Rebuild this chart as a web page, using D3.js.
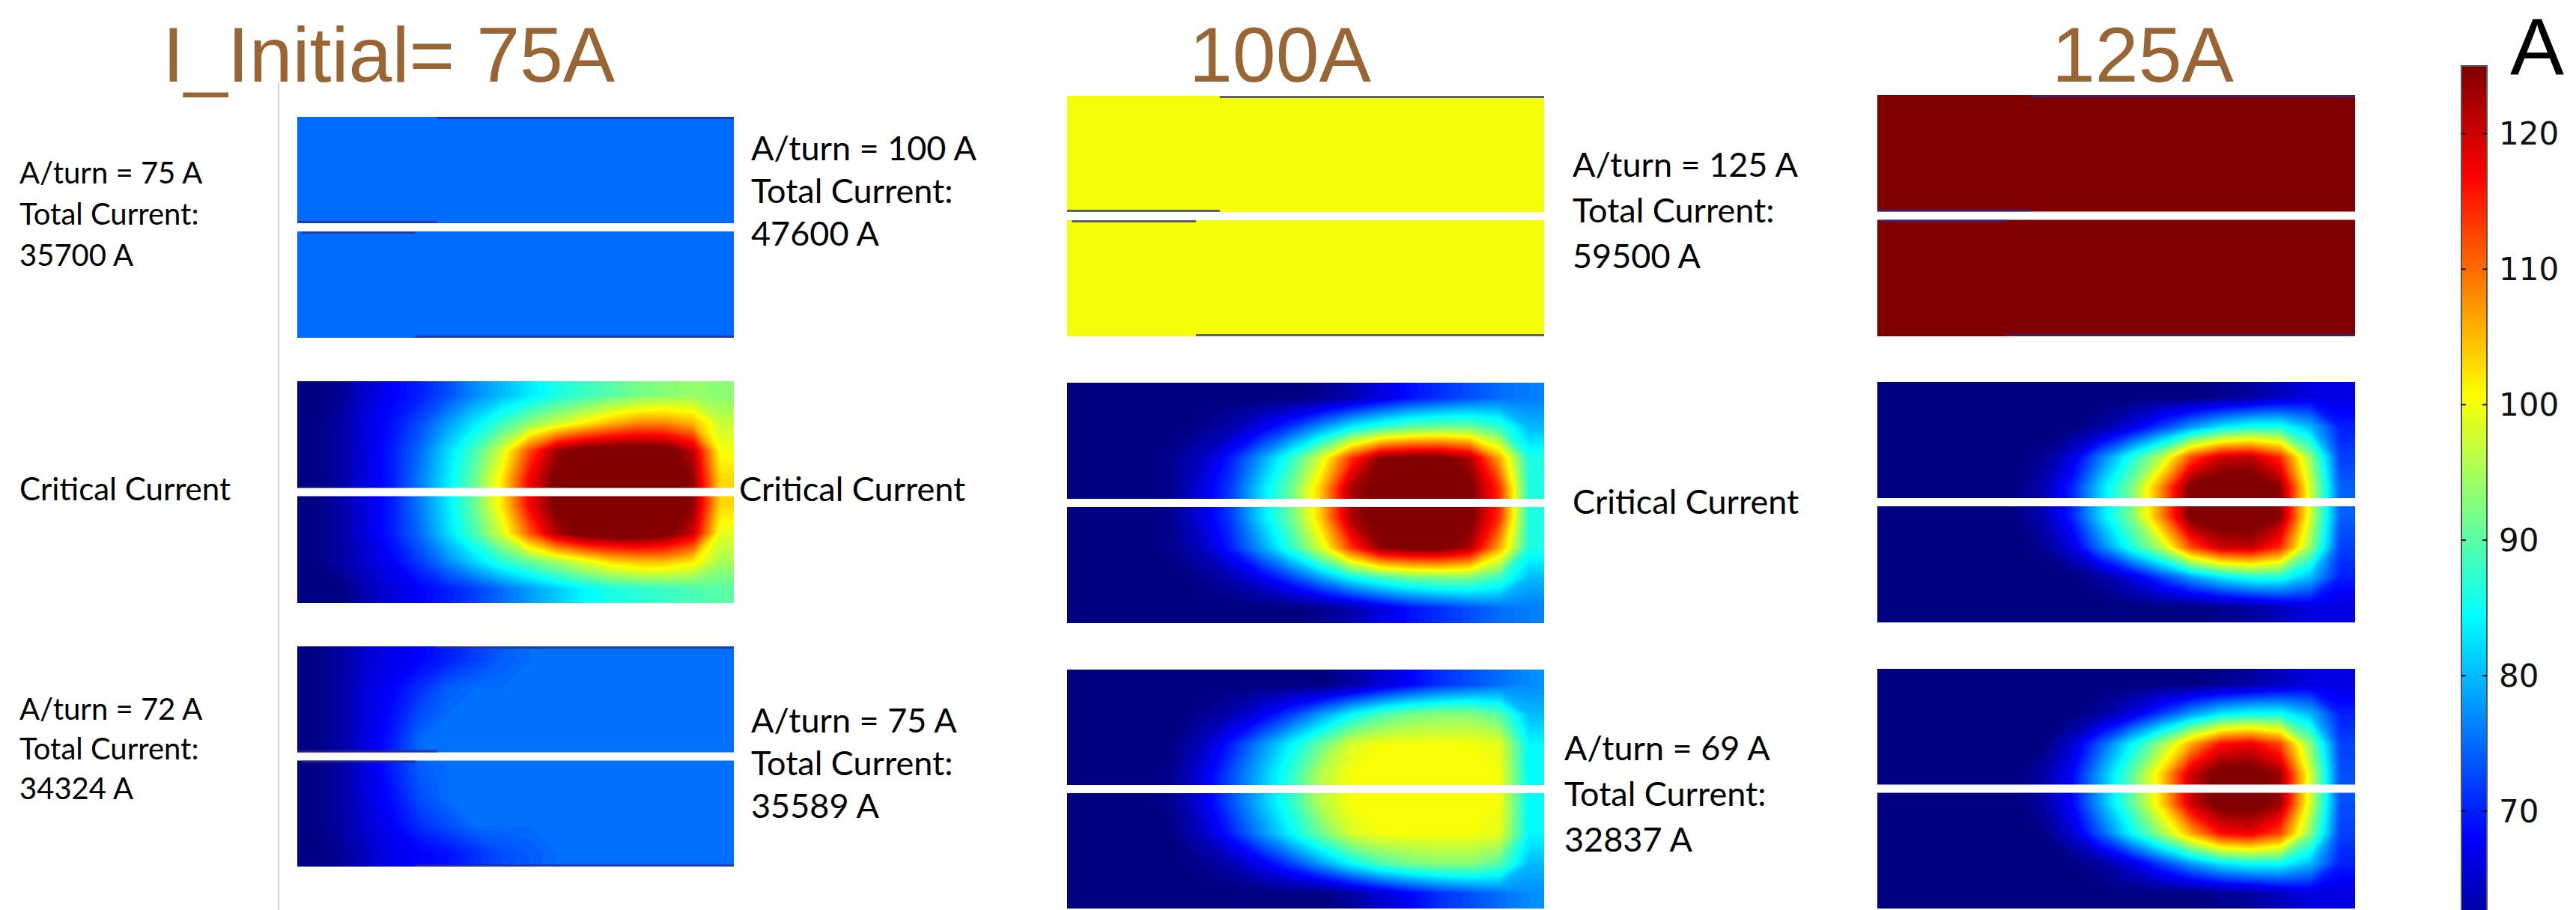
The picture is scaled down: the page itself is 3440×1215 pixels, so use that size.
<!DOCTYPE html>
<html>
<head>
<meta charset="utf-8">
<script src="https://cdn.jsdelivr.net/npm/d3@7"></script>
<style>
  html, body { margin: 0; padding: 0; background: #fff; }
  svg { display: block; }
</style>
</head>
<body>
<svg id="chart" width="3440" height="1215"></svg>
<script>
// ---- data ----
const headings = ["I_Initial= 75A", "100A", "125A"];
const colorDomain = [60, 125];
const colorTicks = [70, 80, 90, 100, 110, 120];
const colorUnit = "A";

// first row: uniform current per turn at start (A)
const startValues = [75, 100, 125];

const startLabels = [
  ["A/turn = 75 A", "Total Current:", "35700 A"],
  ["A/turn = 100 A", "Total Current:", "47600 A"],
  ["A/turn = 125 A", "Total Current:", "59500 A"]
];
const criticalLabel = "Critical Current";
const finalLabels = [
  ["A/turn = 72 A", "Total Current:", "34324 A"],
  ["A/turn = 75 A", "Total Current:", "35589 A"],
  ["A/turn = 69 A", "Total Current:", "32837 A"]
];

// second row: critical current maps, 8 rows (top->bottom) x 16 cols (left->right), A
const critical75 = [
  [60,61,65,68,70,73,77,80,83,86,88,90,92,93,94,93],
  [60,62,66,69,73,78,83,88,93,97,101,105,108,108,105,97],
  [60,62,66,70,75,82,89,98,112,123,127,128,128,127,121,100],
  [60,62,66,70,76,83,91,102,117,126,129,130,130,129,124,103],
  [60,62,66,70,76,83,91,102,117,126,129,130,130,129,124,103],
  [60,62,66,70,75,82,89,98,111,122,127,128,128,126,120,99],
  [60,62,65,68,72,77,82,87,91,95,99,103,105,105,102,95],
  [60,60,63,66,68,70,72,75,78,81,84,86,87,88,89,90]
];
const critical100 = [
  [60,60,60,60,60,60,60,60,61,63,66,69,71,73,75,76],
  [60,60,60,60,61,63,67,72,78,84,88,91,92,92,88,80],
  [60,60,60,61,64,70,78,87,98,113,124,126,126,122,106,86],
  [60,60,60,61,66,72,82,91,104,122,127,128,128,126,114,86],
  [60,60,60,61,66,72,82,91,104,122,127,128,128,126,114,86],
  [60,60,60,61,64,70,78,87,98,113,124,126,126,122,106,86],
  [60,60,60,60,61,63,67,72,78,84,88,91,92,92,88,80],
  [60,60,60,60,60,60,60,60,61,63,66,69,71,73,75,76]
];
const critical125 = [
  [60,60,60,60,60,60,60,60,60,60,60,61,62,64,66,66],
  [60,60,60,60,60,60,60,62,66,72,78,83,86,86,80,70],
  [60,60,60,60,60,61,66,76,86,96,112,120,121,114,94,72],
  [60,60,60,60,60,63,70,82,92,108,126,128,128,124,98,74],
  [60,60,60,60,60,63,70,82,92,108,126,128,128,124,98,74],
  [60,60,60,60,60,61,66,76,86,96,112,120,121,114,94,72],
  [60,60,60,60,60,60,60,62,66,72,78,83,86,86,80,70],
  [60,60,60,60,60,60,60,60,60,60,60,61,62,64,66,66]
];

// third row: final current maps after iteration
const final75 = [
  [60,62,65,67,68,70,72,74,75,75,75,75,75,75,75,75],
  [60,62,66,68,71,74,75,75,75,75,75,75,75,75,75,75],
  [60,62,66,69,73,75,75,75,75,75,75,75,75,75,75,75],
  [60,62,66,70,75,75,75,75,75,75,75,75,75,75,75,75],
  [60,62,66,70,74,75,75,75,75,75,75,75,75,75,75,75],
  [60,62,66,69,73,75,75,75,75,75,75,75,75,75,75,75],
  [60,62,65,68,71,73,75,75,75,75,75,75,75,75,75,75],
  [60,61,64,67,68,69,71,73,74,75,75,75,75,75,75,75]
];
const final100 = [
  [60,60,60,60,60,60,60,60,60,62,65,68,71,73,75,77],
  [60,60,60,60,61,63,67,72,78,84,89,92,93,93,90,80],
  [60,60,60,60,64,70,77,84,91,98,100,100,100,100,99,84],
  [60,60,60,61,66,73,80,87,96,100,100,100,100,100,100,84],
  [60,60,60,61,66,73,80,87,96,100,100,100,100,100,100,84],
  [60,60,60,60,64,70,77,84,91,98,100,100,100,100,99,84],
  [60,60,60,60,61,63,67,72,78,84,89,92,93,93,90,80],
  [60,60,60,60,60,60,60,60,60,62,65,68,71,73,75,77]
];
const final125 = [
  [60,60,60,60,60,60,60,60,60,60,60,61,62,64,66,66],
  [60,60,60,60,60,60,60,62,66,72,78,83,85,85,80,70],
  [60,60,60,60,60,60,65,74,84,94,106,116,118,112,93,72],
  [60,60,60,60,60,62,68,79,90,103,120,127,127,123,98,73],
  [60,60,60,60,60,62,68,79,90,103,120,127,127,123,98,73],
  [60,60,60,60,60,60,65,74,84,94,106,116,118,112,93,72],
  [60,60,60,60,60,60,60,62,66,72,78,83,85,85,80,70],
  [60,60,60,60,60,60,60,60,60,60,60,61,62,64,66,66]
];

// ---- layout ----
const W = 3440, H = 1215;
const colX = [397, 1425, 2507];
const colW = [583, 637, 638];
const rowY = [[156, 128, 127], [509, 511, 510], [863, 894, 893]];
const rowH = [[295, 321, 322], [296, 321, 321], [294, 319, 320]];
const gapH = 11;

const svg = d3.select("#chart");
const defs = svg.append("defs");

// jet colour map over the colour bar range
const span = colorDomain[1] - colorDomain[0];
const jet = d3.scaleLinear()
  .domain([0, 0.125, 0.375, 0.625, 0.875, 1].map(t => colorDomain[0] + t * span))
  .range(["#00007f", "#0000ff", "#00ffff", "#ffff00", "#ff0000", "#7f0000"])
  .clamp(true);

const thresholds = d3.range(colorDomain[0], colorDomain[1], 0.5);

const grids = [
  startValues.map(v => [[v]]),
  [critical75, critical100, critical125],
  [final75, final100, final125]
];

// thin conductor edges that show on the flat panels (fractions of panel width)
const edgeSegments = [
  { edge: "top", x0: 0.32, x1: 1 },
  { edge: "upper", x0: 0, x1: 0.32 },
  { edge: "lower", x0: 0.01, x1: 0.27 },
  { edge: "bottom", x0: 0.27, x1: 1 }
];

let panelId = 0;
function drawPanel(grid, x, y, w, h, withEdges) {
  const ny = grid.length, nx = grid[0].length;
  const id = "clip" + (panelId++);
  defs.append("clipPath").attr("id", id)
    .append("rect").attr("width", w).attr("height", h);

  const g = svg.append("g")
    .attr("transform", `translate(${x},${y})`)
    .attr("clip-path", `url(#${id})`);

  const flat = grid.flat();
  g.append("rect")
    .attr("width", w).attr("height", h)
    .attr("fill", jet(d3.min(flat)));

  if (d3.min(flat) !== d3.max(flat)) {
    // repeat the border cells once so the contour corners fall outside the clip
    const padRows = [grid[0], ...grid, grid[ny - 1]]
      .map(r => [r[0], ...r, r[nx - 1]]);
    const sx = d3.scaleLinear().domain([1, nx + 1]).range([0, w]);
    const sy = d3.scaleLinear().domain([1, ny + 1]).range([0, h]);
    const proj = d3.geoTransform({
      point(px, py) { this.stream.point(sx(px), sy(py)); }
    });
    const path = d3.geoPath(proj);
    const contours = d3.contours().size([nx + 2, ny + 2]).thresholds(thresholds)(padRows.flat());
    g.selectAll("path.iso")
      .data(contours)
      .join("path")
      .attr("class", "iso")
      .attr("d", path)
      .attr("fill", d => jet(d.value + 0.25));
  }

  // white slot between the two coil blocks
  g.append("rect")
    .attr("y", h / 2 - gapH / 2)
    .attr("width", w).attr("height", gapH)
    .attr("fill", "#fff");

  if (withEdges) {
    const ey = { top: 1.5, upper: h / 2 - gapH / 2 - 1.5, lower: h / 2 + gapH / 2 + 1.5, bottom: h - 1.5 };
    g.selectAll("line.edge")
      .data(edgeSegments)
      .join("line")
      .attr("class", "edge")
      .attr("x1", d => d.x0 * w).attr("x2", d => d.x1 * w)
      .attr("y1", d => ey[d.edge]).attr("y2", d => ey[d.edge])
      .attr("stroke", "#2b2b8c")
      .attr("stroke-opacity", 0.75)
      .attr("stroke-width", 3);
  }
}

grids.forEach((row, r) => {
  row.forEach((grid, c) => {
    drawPanel(grid, colX[c], rowY[r][c], colW[c], rowH[r][c], r === 0 || (r === 2 && c === 0));
  });
});

// separator line
svg.append("line")
  .attr("x1", 372).attr("x2", 372)
  .attr("y1", 110).attr("y2", H)
  .attr("stroke", "#d2d2d2")
  .attr("stroke-width", 2);

// column headings
const headX = [217, 1588, 2740];
svg.selectAll("text.head")
  .data(headings)
  .join("text")
  .attr("class", "head")
  .attr("x", (d, i) => headX[i])
  .attr("y", 109)
  .attr("font-family", "'Liberation Sans', Arial, sans-serif")
  .attr("font-size", 104)
  .attr("fill", "#996633")
  .text(d => d);

// side labels
const labelFont = "Lato, 'Open Sans', sans-serif";
function labelBlock(lines, x, y, step, size) {
  svg.append("g")
    .selectAll("text")
    .data(lines)
    .join("text")
    .attr("x", x)
    .attr("y", (d, i) => y + i * step)
    .attr("dominant-baseline", "central")
    .attr("font-family", labelFont)
    .attr("font-size", size)
    .attr("fill", "#000")
    .text(d => d);
}
labelBlock(startLabels[0], 26, 230, 55, 40);
labelBlock(startLabels[1], 1003, 197, 57, 45);
labelBlock(startLabels[2], 2100, 219, 61, 45);
labelBlock([criticalLabel], 26, 652, 0, 42);
labelBlock([criticalLabel], 987, 652, 0, 45);
labelBlock([criticalLabel], 2100, 669, 0, 45);
labelBlock(finalLabels[0], 26, 946, 53, 40);
labelBlock(finalLabels[1], 1003, 961, 57, 45);
labelBlock(finalLabels[2], 2089, 998, 61, 45);

// ---- colour bar ----
const cb = { x: 3287, w: 34 };
const cy = d3.scaleLinear().domain(colorDomain).range([1264, 88]);

const grad = defs.append("linearGradient")
  .attr("id", "jetGrad")
  .attr("x1", 0).attr("x2", 0).attr("y1", 1).attr("y2", 0);
grad.selectAll("stop")
  .data(d3.range(0, 1.0001, 0.025))
  .join("stop")
  .attr("offset", d => d)
  .attr("stop-color", d => jet(colorDomain[0] + d * span));

svg.append("rect")
  .attr("x", cb.x).attr("y", cy(colorDomain[1]))
  .attr("width", cb.w).attr("height", cy(colorDomain[0]) - cy(colorDomain[1]))
  .attr("fill", "url(#jetGrad)")
  .attr("stroke", "#555")
  .attr("stroke-width", 2);

const tickG = svg.append("g");
tickG.selectAll("line.tl")
  .data(colorTicks)
  .join("line")
  .attr("class", "tl")
  .attr("x1", cb.x).attr("x2", cb.x + 6)
  .attr("y1", d => cy(d)).attr("y2", d => cy(d))
  .attr("stroke", "#111").attr("stroke-width", 2);
tickG.selectAll("line.tr")
  .data(colorTicks)
  .join("line")
  .attr("class", "tr")
  .attr("x1", cb.x + cb.w - 6).attr("x2", cb.x + cb.w)
  .attr("y1", d => cy(d)).attr("y2", d => cy(d))
  .attr("stroke", "#111").attr("stroke-width", 2);
tickG.selectAll("text")
  .data(colorTicks)
  .join("text")
  .attr("x", 3337)
  .attr("y", d => cy(d))
  .attr("dominant-baseline", "central")
  .attr("font-family", "'DejaVu Sans', sans-serif")
  .attr("font-size", 42)
  .attr("fill", "#111")
  .text(d => d);

svg.append("text")
  .attr("x", 3352).attr("y", 100)
  .attr("font-family", "'Liberation Sans', Arial, sans-serif")
  .attr("font-size", 108)
  .attr("fill", "#000")
  .text(colorUnit);
</script>
</body>
</html>
